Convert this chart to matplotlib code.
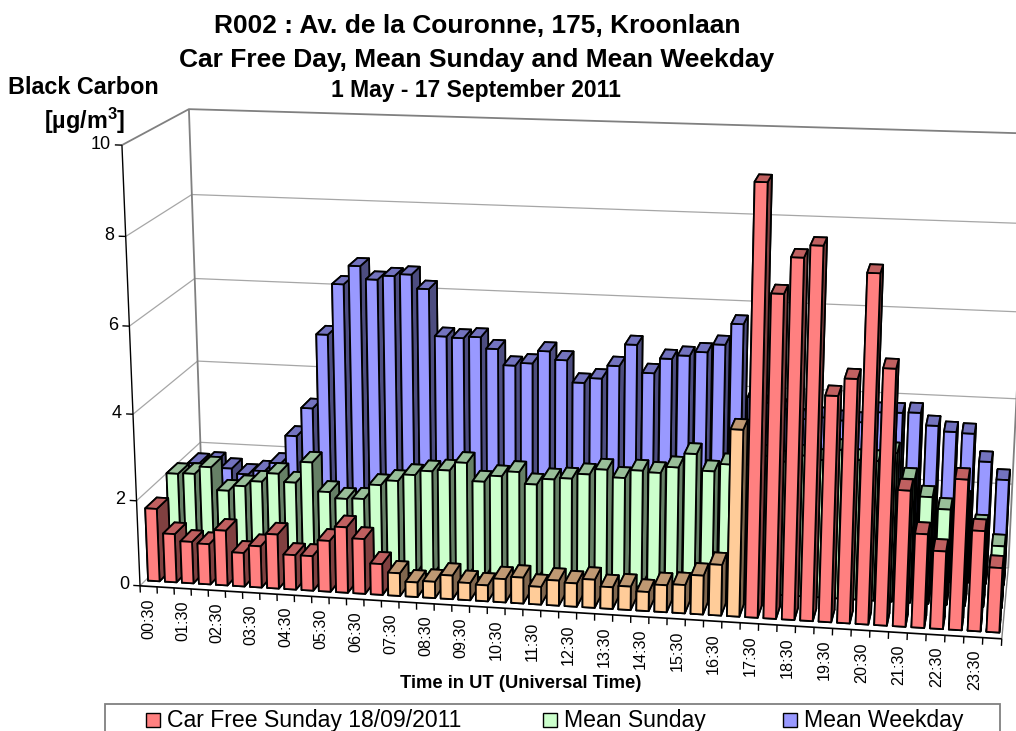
import numpy as np
import matplotlib
matplotlib.use('Agg')
import matplotlib.pyplot as plt
from matplotlib.patches import Rectangle
from mpl_toolkits.mplot3d import proj3d

plt.rcParams['font.family'] = ['Liberation Sans', 'DejaVu Sans']
plt.rcParams['mathtext.fontset'] = 'custom'
plt.rcParams['mathtext.bf'] = 'Liberation Sans:bold'

car_free = [1.71, 1.14, 0.98, 0.95, 1.29, 0.79, 0.97, 1.27, 0.81, 0.81, 1.19, 1.53, 1.28, 0.72,
            0.53, 0.34, 0.38, 0.55, 0.40, 0.37, 0.54, 0.60, 0.41, 0.58, 0.54, 0.65, 0.50, 0.54,
            0.44, 0.62, 0.65, 0.89, 1.16, 4.22, 9.58, 7.22, 8.01, 8.28, 5.06, 5.45, 7.74, 5.71,
            3.06, 2.11, 1.75, 3.37, 2.25, 1.45]
mean_sunday = [2.06, 2.08, 2.26, 1.72, 1.85, 1.98, 2.19, 2.00, 2.50, 1.82, 1.68, 1.70, 2.05, 2.17,
               2.33, 2.44, 2.48, 2.68, 2.26, 2.41, 2.53, 2.26, 2.40, 2.44, 2.56, 2.69, 2.52, 2.71,
               2.68, 2.83, 3.16, 2.78, 2.96, 2.98, 3.20, 3.09, 3.25, 3.17, 3.42, 3.21, 3.21, 3.41,
               2.84, 2.45, 2.19, 2.38, 1.85, 1.42]
mean_weekday = [1.84, 1.89, 1.76, 1.64, 1.74, 1.95, 2.63, 3.32, 5.09, 6.29, 6.73, 6.43, 6.53, 6.58,
                6.26, 5.17, 5.15, 5.19, 4.93, 4.56, 4.63, 4.93, 4.74, 4.23, 4.35, 4.66, 5.17, 4.53,
                4.88, 4.97, 5.07, 5.26, 5.75, 4.08, 3.97, 3.84, 3.63, 3.69, 3.64, 3.62, 3.87, 3.88,
                3.90, 3.62, 3.50, 3.48, 2.85, 2.45]
tick_labels = ['00:30', '01:30', '02:30', '03:30', '04:30', '05:30', '06:30', '07:30', '08:30',
               '09:30', '10:30', '11:30', '12:30', '13:30', '14:30', '15:30', '16:30', '17:30',
               '18:30', '19:30', '20:30', '21:30', '22:30', '23:30']
y_ticks = [0, 2, 4, 6, 8, 10]
# bars 14-33 of the car free series are drawn in another colour
peach_first, peach_last = 14, 33

# faces: bottom, top, front, back, left, right
def faces(front, top, side):
    return [side, top, front, side, side, side]

RED = faces('#FF8080', '#C06060', '#804040')
PEACH = faces('#FFCC99', '#BF9973', '#80664D')
GREEN = faces('#CCFFCC', '#99BF99', '#668066')
BLUE = faces('#9999FF', '#7373BF', '#4D4D80')

# wall points as seen on the picture: data x, y, z -> pixel
corners = [(0, 0, 0, 140, 586), (0, 0, 10, 121, 147), (0, 0, 8, 125, 237), (0, 0, 2, 137, 500),
           (0, 3, 0, 203, 524), (0, 3, 2, 200, 441), (0, 3, 6, 196, 277), (0, 3, 8, 192, 194),
           (0, 3, 10, 189, 109), (48, 0, 0, 1003, 637), (48, 3, 0, 1007, 571), (48, 3, 4, 1016, 397),
           (48, 3, 10, 1030, 134)]


def fit_proj():
    A, b = [], []
    for X, Y, Z, u, v in corners:
        A.append([X, Y, Z, 1, 0, 0, 0, 0, -u * X, -u * Y, -u * Z])
        b.append(u)
        A.append([0, 0, 0, 0, X, Y, Z, 1, -v * X, -v * Y, -v * Z])
        b.append(v)
    p = np.linalg.lstsq(np.array(A, float), np.array(b, float), rcond=None)[0]
    return np.array([p[0:4], p[4:8], [0, 0, 0, -1], [p[8], p[9], p[10], 1]])


fig = plt.figure(figsize=(10.16, 7.31), dpi=100)
ax = fig.add_axes([0, 0, 1, 1], projection='3d', computed_zorder=False)
ax.set_axis_off()
ax.set_proj_type('ortho')
M = fit_proj()
ax.get_proj = lambda: M
ax.apply_aspect = lambda position=None: None
ax.viewLim.intervalx = (0, 1016)
ax.viewLim.intervaly = (731, 0)


def line(xs, ys, zs, color='#808080', lw=1.0, z=1):
    ax.plot(xs, ys, zs, color=color, lw=lw, zorder=z, solid_capstyle='butt')


def px_text(x, y, s, size, weight='bold', ha='center', **kw):
    fig.text(x / 1016, 1 - y / 731, s, fontsize=size, fontweight=weight, ha=ha, va='center', **kw)


def to_px(x, y, z):
    u, v, _ = proj3d.proj_transform(x, y, z, M)
    return float(u), float(v)


# walls
for t in y_ticks[:-1]:
    line([0, 0, 48], [0, 3, 3], [t, t, t], color='#A6A6A6', lw=0.9)
line([0, 0, 48], [0, 3, 3], [10, 10, 10], lw=1.3)
line([0, 0], [3, 3], [0, 10], lw=1.3)
line([48, 48], [3, 3], [0, 10], lw=1.3)
line([48, 48], [0, 3], [0, 0], lw=1.0)

# bars, from the back row to the front row and from left to right
zo = 10
for row, values in enumerate([mean_weekday, mean_sunday, car_free]):
    y0 = 2 - row
    for i, v in enumerate(values):
        if row == 2:
            col = PEACH if peach_first <= i <= peach_last else RED
        else:
            col = BLUE if row == 0 else GREEN
        ax.bar3d(i + 0.16, y0 + 0.24, 0, 0.68, 0.52, v, color=col, shade=False,
                 edgecolor='black', linewidth=1.3, zorder=zo)
        zo += 1

# axes
line([0, 0], [0, 0], [0, 10], color='black', lw=1.0, z=500)
line([0, 48], [0, 0], [0, 0], color='black', lw=1.2, z=500)
for t in y_ticks:
    line([-0.4, 0], [0, 0], [t, t], color='black', z=500)
    u, v = to_px(0, 0, t)
    px_text(u - 11, v - 1, str(t), 13, weight='normal', ha='right')
for i in range(49):
    line([i, i], [0, 0], [-0.16, 0], color='black', z=500)
for i, lab in enumerate(tick_labels):
    u, v = to_px(2 * i + 0.5, 0, 0)
    fig.text((u + 0.1 * i / 2) / 1016, 1 - (v + 12) / 731, lab, rotation=90, ha='center', va='top', fontsize=11.6)

px_text(477, 26, 'R002 : Av. de la Couronne, 175, Kroonlaan', 19)
px_text(477, 60, 'Car Free Day, Mean Sunday and Mean Weekday', 19)
px_text(476, 91, '1 May - 17 September 2011', 16.5)
px_text(83, 88, 'Black Carbon', 16.8)
px_text(85, 121, '[µg/m$^{\\mathbf{3}}$]', 16.8)
px_text(521, 684, 'Time in UT (Universal Time)', 13.2)

# legend box runs off the bottom of the picture
fig.add_artist(Rectangle((105 / 1016, -0.01), 895 / 1016, 0.01 + 1 - 704 / 731, transform=fig.transFigure,
                         fc='white', ec='#808080', lw=1.3))
legend = [(153, 'Car Free Sunday 18/09/2011', RED[2]), (550, 'Mean Sunday', GREEN[2]),
          (790, 'Mean Weekday', BLUE[2])]
for x, s, c in legend:
    fig.add_artist(Rectangle(((x - 7) / 1016, 1 - 727 / 731), 14 / 1016, 14 / 731, transform=fig.transFigure,
                             fc=c, ec='black', lw=1.0))
    px_text(x + 14, 720, s, 16.6, weight='normal', ha='left')

fig.savefig('out.png', dpi=100)
